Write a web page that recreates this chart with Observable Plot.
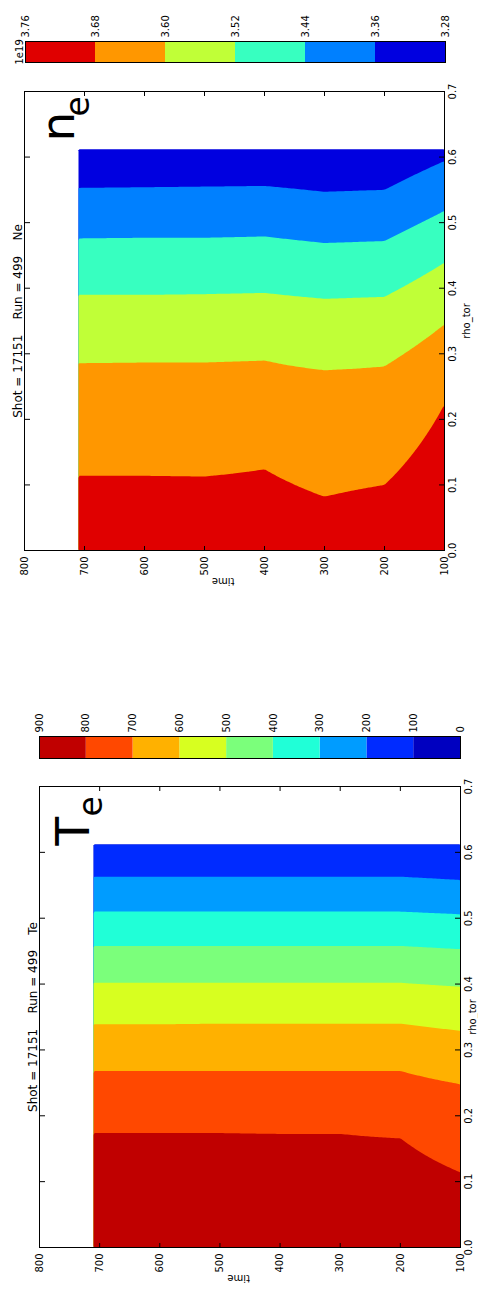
<!DOCTYPE html>
<html>
<head>
<meta charset="utf-8">
<script src="https://cdn.jsdelivr.net/npm/d3@7"></script>
<script src="https://cdn.jsdelivr.net/npm/@observablehq/plot@0.6"></script>
<style>
  html, body { margin: 0; padding: 0; background: #fff; overflow: hidden; }
  body { width: 478px; height: 1293px; position: relative; }
  /* the figure is laid out landscape and turned a quarter turn counter-clockwise */
  #figure {
    position: absolute; left: 0; top: 0; width: 1293px; height: 478px;
    transform-origin: 0 0; transform: translate(0px, 1293px) rotate(-90deg);
  }
  #figure svg { position: absolute; top: 0; overflow: visible; }
  #figure svg text { white-space: pre; }
</style>
</head>
<body>
<div id="figure"></div>
<script>
// ---- shared grid ----------------------------------------------------------
const times = [100, 200, 300, 400, 500, 600, 710];   // time samples
const rhoEdge = 0.612;                               // outermost rho_tor sample
const timeTicks = [100, 200, 300, 400, 500, 600, 700, 800];
const rhoTicks = [0, 0.1, 0.2, 0.3, 0.4, 0.5, 0.6, 0.7];

// ---- electron temperature Te ---------------------------------------------
const teLevels = [0, 100, 200, 300, 400, 500, 600, 700, 800, 900];
const teColors = ["#0000c0", "#002bff", "#009cff", "#20ffd7", "#7bff7b",
                  "#d7ff20", "#ffb100", "#ff4800", "#c00000"];
const teCore = [880, 890, 890, 890, 890, 890, 890];   // Te at rho = 0
const teEdge = [105, 110, 110, 110, 110, 110, 110];   // Te at rho = rhoEdge
// rho_tor where Te falls through each level, one value per time sample
const teRho800 = [0.114, 0.166, 0.173, 0.173, 0.174, 0.174, 0.174];
const teRho700 = [0.248, 0.268, 0.268, 0.268, 0.268, 0.268, 0.268];
const teRho600 = [0.329, 0.340, 0.340, 0.340, 0.340, 0.339, 0.339];
const teRho500 = [0.396, 0.402, 0.402, 0.402, 0.402, 0.402, 0.402];
const teRho400 = [0.453, 0.458, 0.458, 0.458, 0.458, 0.458, 0.458];
const teRho300 = [0.506, 0.510, 0.510, 0.510, 0.510, 0.510, 0.510];
const teRho200 = [0.558, 0.563, 0.563, 0.563, 0.563, 0.563, 0.563];

// ---- electron density ne (units of 1e19) ---------------------------------
const neLevels = [3.28, 3.36, 3.44, 3.52, 3.60, 3.68, 3.76];
const neColors = ["#0000e0", "#0080ff", "#37ffc0", "#c0ff37", "#ff9700", "#e00000"];
const neCore = [3.75, 3.73, 3.73, 3.72, 3.72, 3.72, 3.72];
const neEdge = [3.34, 3.30, 3.30, 3.30, 3.30, 3.30, 3.30];
const neRho368 = [0.223, 0.100, 0.082, 0.124, 0.113, 0.114, 0.114];
const neRho360 = [0.345, 0.281, 0.275, 0.290, 0.287, 0.287, 0.286];
const neRho352 = [0.439, 0.387, 0.384, 0.393, 0.391, 0.390, 0.390];
const neRho344 = [0.518, 0.472, 0.469, 0.479, 0.477, 0.477, 0.476];
const neRho336 = [0.594, 0.550, 0.547, 0.556, 0.555, 0.554, 0.553];

// Profile value at (rho, t): piecewise linear in rho through the level
// crossings of each time sample, linear in time between samples.
function makeField(core, edge, crossings, crossLevels) {
  const knots = times.map((_, k) => ({
    xs: [0, ...crossings.map(c => c[k]), rhoEdge],
    vs: [core[k], ...crossLevels, edge[k]]
  }));
  const at = (k, rho) => {
    const {xs, vs} = knots[k];
    for (let i = 0; i < xs.length - 1; i++) {
      if (rho <= xs[i + 1]) return vs[i] + (vs[i + 1] - vs[i]) * (rho - xs[i]) / (xs[i + 1] - xs[i]);
    }
    return vs[vs.length - 1];
  };
  return (rho, t) => {
    let k = 0;
    while (k < times.length - 2 && t > times[k + 1]) k++;
    const s = Math.max(0, Math.min(1, (t - times[k]) / (times[k + 1] - times[k])));
    return (1 - s) * at(k, rho) + s * at(k + 1, rho);
  };
}

const font = {fontFamily: "'DejaVu Sans', sans-serif", fontSize: "10px", color: "black", background: "transparent"};
const fig = document.getElementById("figure");

function contourPanel(o) {
  const thresholds = o.levels.slice(0, -1);
  const svg = Plot.plot({
    width: o.width, height: 478,
    marginLeft: o.ml, marginRight: o.mr, marginTop: o.mt, marginBottom: o.mb,
    style: font,
    x: {domain: [0, 0.7]},
    y: {domain: [100, 800]},
    color: {type: "ordinal", domain: thresholds, range: o.colors},
    marks: [
      Plot.contour({fill: o.field, x1: 0, x2: rhoEdge, y1: times[0], y2: times[times.length - 1],
                    thresholds, stroke: "none"}),
      Plot.frame({stroke: "black"}),
      Plot.axisX({anchor: "bottom", ticks: rhoTicks, tickSize: -5, tickPadding: 9,
                  tickFormat: d3.format(".1f"), label: null}),
      Plot.axisX({anchor: "top", ticks: rhoTicks, tickSize: -5, tickFormat: () => "", label: null}),
      Plot.axisY({anchor: "left", ticks: timeTicks, tickSize: -5, tickPadding: 11,
                  tickFormat: d3.format("d"), label: null}),
      Plot.axisY({anchor: "right", ticks: timeTicks, tickSize: -5, tickFormat: () => "", label: null}),
      Plot.text(["time"], {frameAnchor: "left", dx: -31, rotate: -90, lineAnchor: "middle", fontSize: 10}),
      Plot.text(["rho_tor"], {frameAnchor: "bottom", dy: o.rhoLabelDy, lineAnchor: "bottom", fontSize: 10}),
      Plot.text([o.title], {frameAnchor: "top", dy: -3, lineAnchor: "bottom", fontSize: 12}),
      Plot.text([o.sym], {frameAnchor: "top-right", dx: o.symDx, dy: 49, textAnchor: "start",
                          lineAnchor: "bottom", fontSize: 47}),
      Plot.text(["e"], {frameAnchor: "top-right", dx: o.subDx, dy: o.subDy, textAnchor: "start",
                        lineAnchor: "bottom", fontSize: 33})
    ]
  });
  svg.style.left = o.left + "px";
  fig.appendChild(svg);
}

function colorbar(o) {
  const bands = o.levels.slice(0, -1).map((lo, i) => ({lo, hi: o.levels[i + 1]}));
  const marks = [
    Plot.rect(bands, {y1: "lo", y2: "hi", fill: "lo"}),
    Plot.frame({stroke: "black"}),
    Plot.axisY({anchor: "right", ticks: o.levels, tickSize: 0, tickPadding: 4,
                tickFormat: o.format, label: null})
  ];
  if (o.offset) marks.push(Plot.text([o.offset], {frameAnchor: "top-left", dx: -2, dy: -3,
                                                  textAnchor: "start", lineAnchor: "bottom", fontSize: 10}));
  const svg = Plot.plot({
    width: o.barWidth + 50, height: 478,
    marginLeft: 0, marginRight: 50, marginTop: o.mt, marginBottom: o.mb,
    style: font,
    y: {domain: [o.levels[0], o.levels[o.levels.length - 1]]},
    color: {type: "ordinal", domain: o.levels.slice(0, -1), range: o.colors},
    marks
  });
  svg.style.left = o.left + "px";
  fig.appendChild(svg);
}

// Te panel and its colour bar
contourPanel({
  left: 0, width: 530, ml: 45, mr: 24, mt: 39, mb: 18,
  levels: teLevels, colors: teColors,
  field: makeField(teCore, teEdge,
    [teRho800, teRho700, teRho600, teRho500, teRho400, teRho300, teRho200],
    [800, 700, 600, 500, 400, 300, 200]),
  title: "Shot = 17151    Run = 499    Te",
  sym: "T", symDx: -59, subDx: -30, subDy: 62, rhoLabelDy: 15
});
colorbar({left: 534, barWidth: 22, mt: 39, mb: 18, levels: teLevels, colors: teColors,
          format: d3.format("d")});

// ne panel and its colour bar
contourPanel({
  left: 700, width: 520, ml: 42, mr: 19, mt: 24, mb: 34,
  levels: neLevels, colors: neColors,
  field: makeField(neCore, neEdge,
    [neRho368, neRho360, neRho352, neRho344, neRho336],
    [3.68, 3.60, 3.52, 3.44, 3.36]),
  title: "Shot = 17151    Run = 499    Ne",
  sym: "n", symDx: -50, subDx: -25, subDy: 64, rhoLabelDy: 25
});
colorbar({left: 1230, barWidth: 21, mt: 25, mb: 33, levels: neLevels, colors: neColors,
          format: d3.format(".2f"), offset: "1e19"});
</script>
</body>
</html>
